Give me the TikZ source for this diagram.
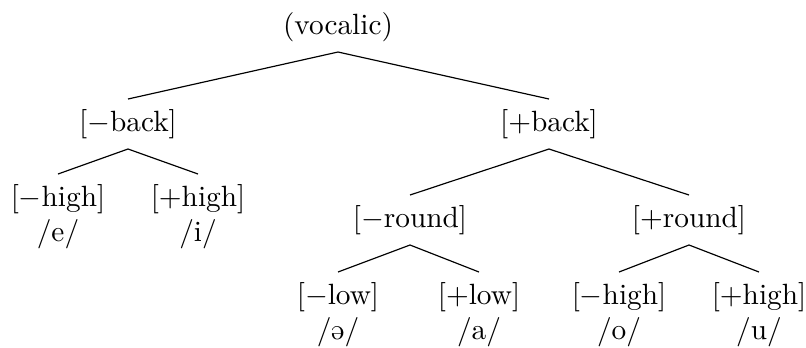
\documentclass[tikz,border=0pt]{standalone}
\usepackage{tipa}
\begin{document}
\begin{tikzpicture}[x=0.3413pt, y=-0.3413pt,
    feat/.style={inner sep=3.33pt},
    leaf/.style={feat, align=center},
    branch/.style={line width=0.4pt}]
  \useasboundingbox (0,0) rectangle (806,347);

  % root
  \node[feat, anchor=south] (root) at (338,52) {(vocalic)};

  % first split
  \node[feat, anchor=north] (nb) at (128,99) {[$-$back]};
  \node[feat, anchor=north] (pb) at (549,99) {[$+$back]};

  % front vowels
  \node[leaf, anchor=north] (nbnh) at (58,174) {[$-$high]\\/e/};
  \node[leaf, anchor=north] (nbph) at (198,174) {[$+$high]\\/i/};

  % back vowels
  \node[feat, anchor=north] (nr) at (410,195) {[$-$round]};
  \node[feat, anchor=north] (pr) at (689,195) {[$+$round]};

  \node[leaf, anchor=north] (nrnl) at (338,272) {[$-$low]\\/\textschwa/};
  \node[leaf, anchor=north] (nrpl) at (479,272) {[$+$low]\\/a/};
  \node[leaf, anchor=north] (prnh) at (619,272) {[$-$high]\\/o/};
  \node[leaf, anchor=north] (prph) at (759,272) {[$+$high]\\/u/};

  % branches
  \draw[branch] (nb.north) -- (root.south) -- (pb.north);
  \draw[branch] (nbnh.north) -- (nb.south) -- (nbph.north);
  \draw[branch] (nr.north) -- (pb.south) -- (pr.north);
  \draw[branch] (nrnl.north) -- (nr.south) -- (nrpl.north);
  \draw[branch] (prnh.north) -- (pr.south) -- (prph.north);
\end{tikzpicture}
\end{document}
